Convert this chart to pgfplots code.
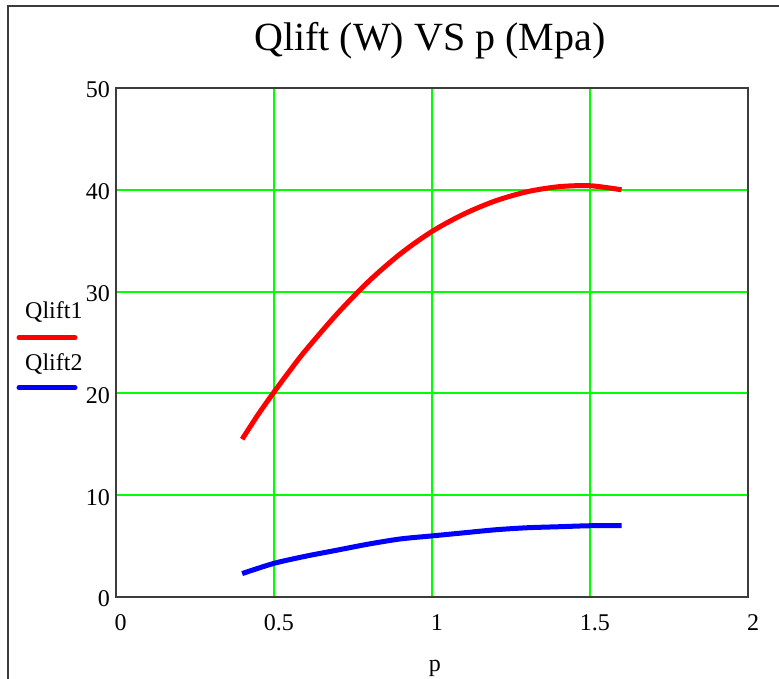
\documentclass[border=0pt]{standalone}
\usepackage{pgfplots}
\pgfplotsset{compat=1.18}
\usepackage{fontspec}
\setmainfont{Liberation Serif}

\definecolor{gridgreen}{RGB}{0,255,0}
\definecolor{framegray}{RGB}{60,60,60}

\begin{document}
\begin{tikzpicture}[x=1pt,y=1pt]
  \useasboundingbox (0,0) rectangle (779,679);
  % outer frame of the worksheet region
  \draw[line width=2pt, framegray] (8,-20) -- (8,673) -- (800,673);

  \begin{axis}[
    at={(115.7pt,82pt)}, anchor=south west,
    scale only axis,
    width=632.3pt, height=509pt,
    xmin=0, xmax=2, ymin=0, ymax=50,
    xtick={0,0.5,1,1.5,2},
    xticklabels={0,0.5,1,1.5,2},
    ytick={0,10,20,30,40,50},
    major tick length=0pt,
    grid=major,
    grid style={color=gridgreen, line width=2pt},
    axis line style={line width=1.8pt, color=framegray},
    /pgf/number format/assume math mode=true,
    tick label style={font=\fontsize{24}{28}\selectfont, inner sep=0pt},
    xticklabel style={anchor=base, yshift=-34pt, xshift=5pt},
    yticklabel style={anchor=east, xshift=-5.7pt, yshift=-2pt},
    title={Qlift (W) VS p (Mpa)},
    title style={font=\fontsize{40}{46}\selectfont, at={(axis description cs:0.5,1)}, anchor=base, yshift=31pt, xshift=-2pt, inner sep=0pt},
    xlabel={p},
    xlabel style={font=\fontsize{24}{28}\selectfont, at={(axis description cs:0.5,0)}, anchor=base, yshift=-75pt, xshift=3pt, inner sep=0pt},
  ]
    % Qlift1
    \addplot[color=red, line width=5pt, smooth] coordinates {
      (0.4,15.5) (0.45,17.9) (0.5,20.1) (0.55,22.2) (0.6,24.2) (0.7,27.8)
      (0.8,31.0) (0.9,33.7) (1.0,35.9) (1.1,37.6) (1.2,38.9) (1.3,39.8)
      (1.4,40.3) (1.5,40.4) (1.6,40.0)
    };
    % Qlift2
    \addplot[color=blue, line width=5pt, smooth] coordinates {
      (0.4,2.3) (0.5,3.3) (0.6,4.0) (0.7,4.6) (0.8,5.2) (0.9,5.7)
      (1.0,6.0) (1.1,6.3) (1.2,6.6) (1.3,6.8) (1.4,6.9) (1.5,7.0) (1.6,7.0)
    };
  \end{axis}

  % legend: name above its line sample
  \node[anchor=base west, inner sep=0pt, font=\fontsize{24}{28}\selectfont] at (25,360) {Qlift1};
  \draw[red, line width=5pt, line cap=round] (19,341.3) -- (75,341.3);
  \node[anchor=base west, inner sep=0pt, font=\fontsize{24}{28}\selectfont] at (25,308.5) {Qlift2};
  \draw[blue, line width=5pt, line cap=round] (19,291.3) -- (75,291.3);
\end{tikzpicture}
\end{document}
